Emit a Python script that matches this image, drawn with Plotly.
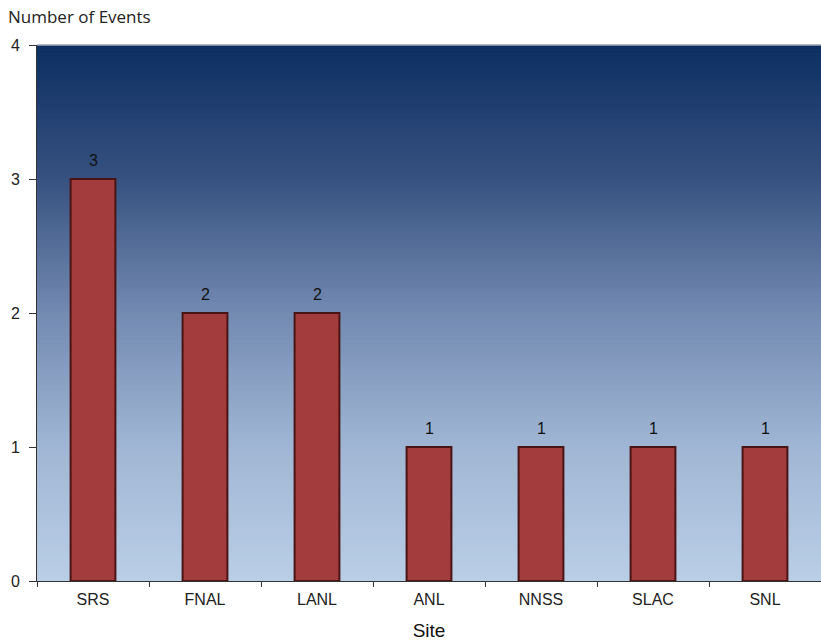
import plotly.graph_objects as go

sites = ["SRS", "FNAL", "LANL", "ANL", "NNSS", "SLAC", "SNL"]
events = [3, 2, 2, 1, 1, 1, 1]
y_ticks = [0, 1, 2, 3, 4]

# background gradient stops (fraction from top, rgb)
stops = [(0.0, (12, 46, 98)), (0.25, (55, 82, 128)), (0.5, (115, 138, 178)),
         (0.75, (160, 182, 212)), (1.0, (186, 206, 230))]

def col(f):
    for (f0, c0), (f1, c1) in zip(stops[:-1], stops[1:]):
        if f0 <= f <= f1:
            t = (f - f0) / (f1 - f0)
            return "rgb(%d,%d,%d)" % tuple(round(a + (b - a) * t) for a, b in zip(c0, c1))
    return "rgb(%d,%d,%d)" % stops[-1][1]

N = 140
shapes = []
for i in range(N):
    f = (i + 0.5) / N
    shapes.append(dict(type="rect", xref="paper", yref="paper", x0=0, x1=1,
                       y0=0, y1=1 - i / N,
                       fillcolor=col(f), line=dict(width=0), layer="below"))
shapes.append(dict(type="line", xref="paper", yref="paper", x0=0, x1=1, y0=1, y1=1,
                   line=dict(color="#9aa6b8", width=1.5)))

fig = go.Figure(go.Bar(
    x=sites, y=events, width=0.4,
    marker=dict(color="#a33c3c", line=dict(color="#4a1414", width=2)),
))

annotations = [dict(x=s, y=v, text=str(v), showarrow=False, yanchor="bottom", yshift=8,
                    font=dict(family="Liberation Sans, Arial", size=16, color="#111"))
               for s, v in zip(sites, events)]
annotations.append(dict(text="Number of Events", xref="paper", yref="paper",
                        x=-31/784, y=1, xanchor="left", yanchor="bottom", yshift=15,
                        showarrow=False, font=dict(family="Open Sans", size=17, color="#222")))

fig.update_layout(
    width=821, height=641,
    margin=dict(l=37, r=0, t=45, b=60),
    paper_bgcolor="white", plot_bgcolor="rgba(0,0,0,0)",
    shapes=shapes, showlegend=False,
    font=dict(family="Liberation Sans, Arial", size=16, color="#222"),
    xaxis=dict(tickson="boundaries", ticks="outside", ticklen=5, tickcolor="#333",
               showline=True, linecolor="#333", linewidth=1, showgrid=False,
               ticklabelstandoff=4,
               tickfont=dict(size=16, color="#222"),
               title=dict(text="Site", font=dict(size=19, color="#111"), standoff=16)),
    yaxis=dict(range=[0, 4], tickvals=y_ticks, ticks="outside", ticklen=7, tickcolor="#333",
               showline=True, linecolor="#333", linewidth=1, showgrid=False, zeroline=False,
               ticklabelstandoff=6,
               tickfont=dict(size=16, color="#222")),
    annotations=annotations,
)

fig.write_html("out.html")
